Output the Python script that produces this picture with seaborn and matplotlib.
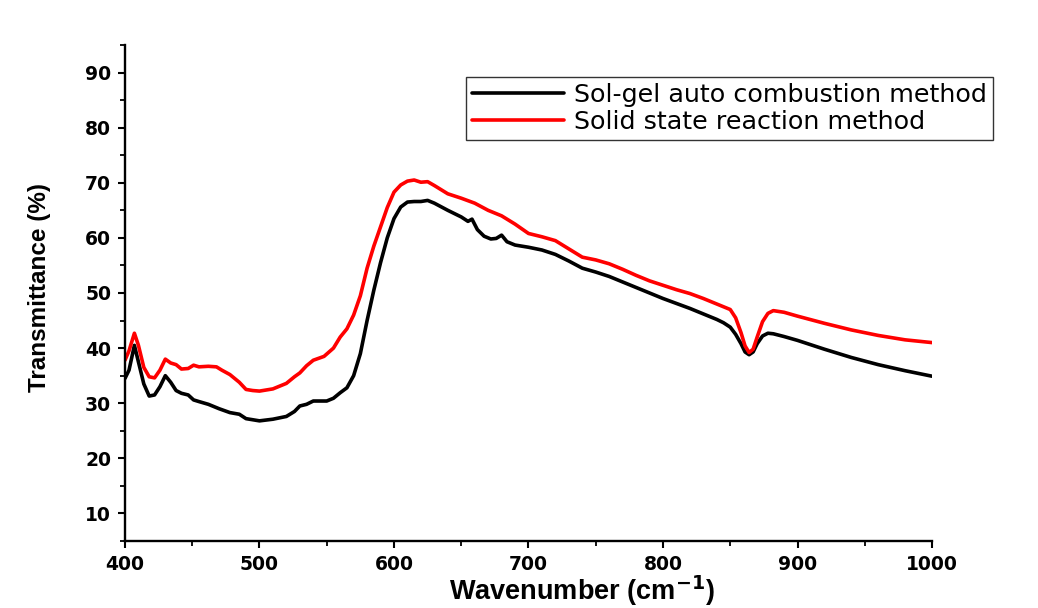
import numpy as np
import pandas as pd
import matplotlib
matplotlib.use("Agg")
import matplotlib.pyplot as plt
import seaborn as sns
from matplotlib.ticker import MultipleLocator

# ---- data ----
wn_solgel = [400, 403, 407, 410, 414, 418, 422, 426, 430, 434, 438, 442, 447, 451, 455,
             462, 470, 478, 485, 490, 495, 500, 510, 520, 526, 530, 535, 540, 550, 555,
             560, 565, 570, 575, 580, 585, 590, 595, 600, 605, 610, 615, 620, 625, 630,
             640, 650, 655, 658, 662, 667, 672, 676, 680, 684, 690, 700, 710, 720, 730,
             740, 750, 760, 770, 780, 790, 800, 810, 820, 830, 840, 845, 850, 854, 858,
             861, 864, 867, 870, 874, 878, 882, 890, 900, 920, 940, 960, 980, 1000]
t_solgel = [34.5, 36.0, 40.5, 37.5, 33.5, 31.3, 31.5, 33.0, 35.0, 33.8, 32.3, 31.8, 31.5, 30.6, 30.3,
            29.8, 29.0, 28.3, 28.0, 27.2, 27.0, 26.8, 27.1, 27.6, 28.5, 29.5, 29.8, 30.4, 30.4, 30.9,
            31.9, 32.8, 35.0, 39.0, 45.0, 50.5, 55.5, 60.0, 63.5, 65.6, 66.5, 66.6, 66.6, 66.8, 66.3,
            65.0, 63.8, 63.0, 63.4, 61.5, 60.3, 59.8, 59.9, 60.5, 59.3, 58.7, 58.3, 57.8, 57.0, 55.8,
            54.5, 53.8, 53.0, 52.0, 51.0, 50.0, 49.0, 48.1, 47.2, 46.2, 45.2, 44.6, 43.8, 42.5, 40.8,
            39.3, 38.8, 39.3, 40.8, 42.2, 42.7, 42.6, 42.1, 41.4, 39.8, 38.3, 37.0, 35.9, 34.9]

wn_solid = [400, 403, 407, 410, 414, 418, 422, 426, 430, 434, 438, 442, 447, 451, 455,
            462, 468, 472, 478, 485, 490, 495, 500, 510, 520, 526, 530, 535, 540, 548,
            555, 560, 565, 570, 575, 580, 585, 590, 595, 600, 605, 610, 615, 620, 625,
            630, 640, 650, 660, 670, 680, 690, 700, 710, 720, 730, 740, 750, 760, 770,
            780, 790, 800, 810, 820, 830, 840, 845, 850, 854, 858, 861, 864, 867, 870,
            874, 878, 882, 890, 900, 920, 940, 960, 980, 1000]
t_solid = [37.8, 39.5, 42.7, 40.5, 36.5, 34.8, 34.6, 36.0, 38.0, 37.3, 37.0, 36.2, 36.3, 36.9, 36.6,
           36.7, 36.6, 36.0, 35.2, 33.8, 32.5, 32.3, 32.2, 32.6, 33.6, 34.8, 35.5, 36.8, 37.8, 38.5,
           40.0, 42.0, 43.5, 46.0, 49.5, 54.5, 58.5, 62.0, 65.5, 68.3, 69.6, 70.3, 70.5, 70.1, 70.2,
           69.5, 68.0, 67.2, 66.3, 65.0, 64.0, 62.5, 60.8, 60.2, 59.5, 58.0, 56.5, 56.0, 55.3, 54.3,
           53.2, 52.2, 51.4, 50.6, 49.9, 49.0, 48.0, 47.5, 47.0, 45.5, 42.8, 40.4, 39.2, 39.8, 42.0,
           44.8, 46.3, 46.8, 46.5, 45.8, 44.5, 43.3, 42.3, 41.5, 41.0]

labels = ["Sol-gel auto combustion method", "Solid state reaction method"]
colors = ["#000000", "#ff0000"]

df = pd.concat([
    pd.DataFrame({"wn": wn_solgel, "T": t_solgel, "method": labels[0]}),
    pd.DataFrame({"wn": wn_solid, "T": t_solid, "method": labels[1]}),
])

sns.set_theme(style="white")
plt.rcParams["font.family"] = ["DejaVu Sans"]
plt.rcParams["text.color"] = "black"
plt.rcParams["axes.labelcolor"] = "black"
plt.rcParams["xtick.color"] = "black"
plt.rcParams["ytick.color"] = "black"

fig = plt.figure(figsize=(10.38, 6.08), dpi=100)
ax = fig.add_axes([0.1204, 0.1102, 0.7775, 0.8158])

sns.lineplot(data=df, x="wn", y="T", hue="method", palette=dict(zip(labels, colors)),
             linewidth=2.6, ax=ax, sort=True, estimator=None)

ax.set_xlim(400, 1000)
ax.set_ylim(5, 95)
ax.xaxis.set_major_locator(MultipleLocator(100))
ax.xaxis.set_minor_locator(MultipleLocator(50))
ax.yaxis.set_minor_locator(MultipleLocator(5))
ax.set_yticks([10, 20, 30, 40, 50, 60, 70, 80, 90])

for s in ["top", "right"]:
    ax.spines[s].set_visible(False)
for s in ["left", "bottom"]:
    ax.spines[s].set_color("black")
    ax.spines[s].set_linewidth(1.7)

ax.tick_params(axis="both", which="major", direction="out", length=5, width=1.5,
               color="black", labelcolor="black", labelsize=13.5, pad=5, bottom=True, left=True)
ax.tick_params(axis="both", which="minor", direction="out", length=3.5, width=1.3,
               color="black", bottom=True, left=True)
for lab in ax.get_xticklabels() + ax.get_yticklabels():
    lab.set_fontweight("bold")
    lab.set_family("DejaVu Sans")

ax.set_xlabel("Wavenumber (cm$^{\\mathbf{-1}}$)", fontsize=19.5, fontweight="bold",
              color="black", family=["Liberation Sans", "DejaVu Sans"])
ax.xaxis.set_label_coords(0.566, -0.066)
ax.set_ylabel("Transmittance (%)", fontsize=17.5, fontweight="bold", color="black",
              family=["Liberation Sans Narrow", "Liberation Sans", "DejaVu Sans"])
ax.yaxis.set_label_coords(-0.092, 0.512)

ax.legend_.remove()
handles, _ = ax.get_legend_handles_labels()
leg = fig.legend(handles, labels, loc="upper left", bbox_to_anchor=(0.449, 0.874),
                 bbox_transform=fig.transFigure, frameon=True, fancybox=False,
                 prop={"family": "DejaVu Sans", "size": 18.3},
                 edgecolor="black", handlelength=3.6, borderpad=0.25, labelspacing=0.12,
                 handletextpad=0.4, borderaxespad=0)
leg.get_frame().set_linewidth(1.0)
for t in leg.get_texts():
    t.set_color("black")
for l in leg.get_lines():
    l.set_linewidth(2.6)

fig.savefig("out.png", dpi=100, facecolor="white")
